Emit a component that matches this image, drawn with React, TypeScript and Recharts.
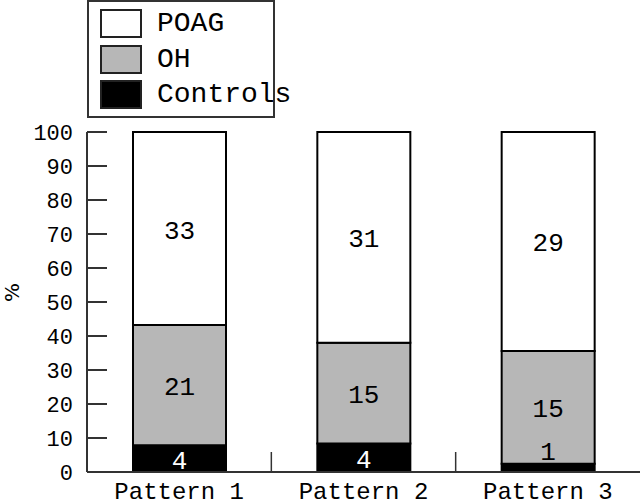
import React from 'react';
import { BarChart, Bar, XAxis, YAxis, Legend, LabelList } from 'recharts';

const MONO = '"Liberation Mono", "DejaVu Sans Mono", monospace';

const patterns = ['Pattern 1', 'Pattern 2', 'Pattern 3'];
// segment heights in %
const controlsPct = [7.9, 8.4, 2.4];
const ohPct = [35.3, 29.6, 33.2];
const poagPct = [56.8, 62.0, 64.4];
// counts printed inside the segments
const controlsN = [4, 4, 1];
const ohN = [21, 15, 15];
const poagN = [33, 31, 29];
const yTicks = [0, 10, 20, 30, 40, 50, 60, 70, 80, 90, 100];

const legendItems = [
  { name: 'POAG', fill: '#ffffff' },
  { name: 'OH', fill: '#b7b7b7' },
  { name: 'Controls', fill: '#000000' },
];

const data = patterns.map((name, i) => ({
  name,
  controls: controlsPct[i],
  oh: ohPct[i],
  poag: poagPct[i],
  controlsN: controlsN[i],
  ohN: ohN[i],
  poagN: poagN[i],
}));

const TICK_GAP = 10;

function renderLegend() {
  return (
    <div
      style={{
        width: 184,
        height: 114,
        border: '2px solid #333',
        background: '#fff',
        position: 'relative',
        fontFamily: MONO,
        fontSize: 28,
        color: '#000',
      }}
    >
      {legendItems.map((it, i) => (
        <div key={it.name} style={{ position: 'absolute', left: 11, top: 7 + i * 35.5, display: 'flex', alignItems: 'center', whiteSpace: 'nowrap' }}>
          <div style={{ width: 38, height: 25, border: '2px solid #222', background: it.fill }} />
          <span style={{ marginLeft: 15, lineHeight: '29px' }}>{it.name}</span>
        </div>
      ))}
    </div>
  );
}

function SegLabel(props: any) {
  const vb = props.viewBox || props;
  const { x, y, width } = vb;
  const height = Math.abs(vb.height);
  const color = props.color || '#000';
  // too thin segment: put the number just above it, in black
  const thin = height < 20;
  return (
    <text
      x={x + width / 2}
      y={thin ? y - 11 : y + height / 2 + 3}
      textAnchor="middle"
      dominantBaseline="central"
      fill={thin ? '#000' : color}
      fontSize={26}
      fontFamily={MONO}
    >
      {props.value}
    </text>
  );
}

// category label plus the small separator tick at the right edge of the band
function PatternTick(props: any) {
  const { x, y, payload, index } = props;
  const half = payload.offset || 0;
  const axisY = y - TICK_GAP;
  return (
    <g>
      {index < patterns.length - 1 && half > 0 && (
        <line x1={x + half} x2={x + half} y1={axisY} y2={axisY - 20} stroke="#333" strokeWidth={1.5} />
      )}
      <text x={x} y={y} dy="0.71em" textAnchor="middle" fill="#000" fontSize={24} fontFamily={MONO}>
        {payload.value}
      </text>
    </g>
  );
}

export default function App() {
  return (
    <div style={{ position: 'absolute', left: 0, top: 0, background: '#fff' }}>
      <BarChart
        width={640}
        height={502}
        data={data}
        margin={{ top: 132, right: 0, left: 0, bottom: 0 }}
      >
        <XAxis
          dataKey="name"
          height={30}
          tickLine={false}
          tickSize={0}
          tickMargin={TICK_GAP}
          axisLine={{ stroke: '#333', strokeWidth: 2 }}
          tick={<PatternTick />}
        />
        <YAxis
          width={87}
          domain={[0, 100]}
          ticks={yTicks}
          tickSize={-20}
          tickMargin={34}
          axisLine={{ stroke: '#333', strokeWidth: 2 }}
          tickLine={{ stroke: '#333', strokeWidth: 2 }}
          tick={{ fill: '#000', fontSize: 22, fontFamily: MONO }}
          label={{ value: '%', angle: -90, position: 'insideLeft', offset: 12, fontSize: 20, fill: '#000', fontFamily: 'DejaVu Sans' }}
        />
        <Legend
          content={renderLegend}
          layout="horizontal"
          verticalAlign="middle"
          align="center"
          wrapperStyle={{ left: 87, top: 0, width: 188, height: 118 }}
        />
        <Bar dataKey="controls" stackId="a" fill="#000" stroke="#000" strokeWidth={2} barSize={93} isAnimationActive={false}>
          <LabelList dataKey="controlsN" content={<SegLabel color="#fff" />} />
        </Bar>
        <Bar dataKey="oh" stackId="a" fill="#b7b7b7" stroke="#000" strokeWidth={2} barSize={93} isAnimationActive={false}>
          <LabelList dataKey="ohN" content={<SegLabel />} />
        </Bar>
        <Bar dataKey="poag" stackId="a" fill="#fff" stroke="#000" strokeWidth={2} barSize={93} isAnimationActive={false}>
          <LabelList dataKey="poagN" content={<SegLabel />} />
        </Bar>
      </BarChart>
    </div>
  );
}
